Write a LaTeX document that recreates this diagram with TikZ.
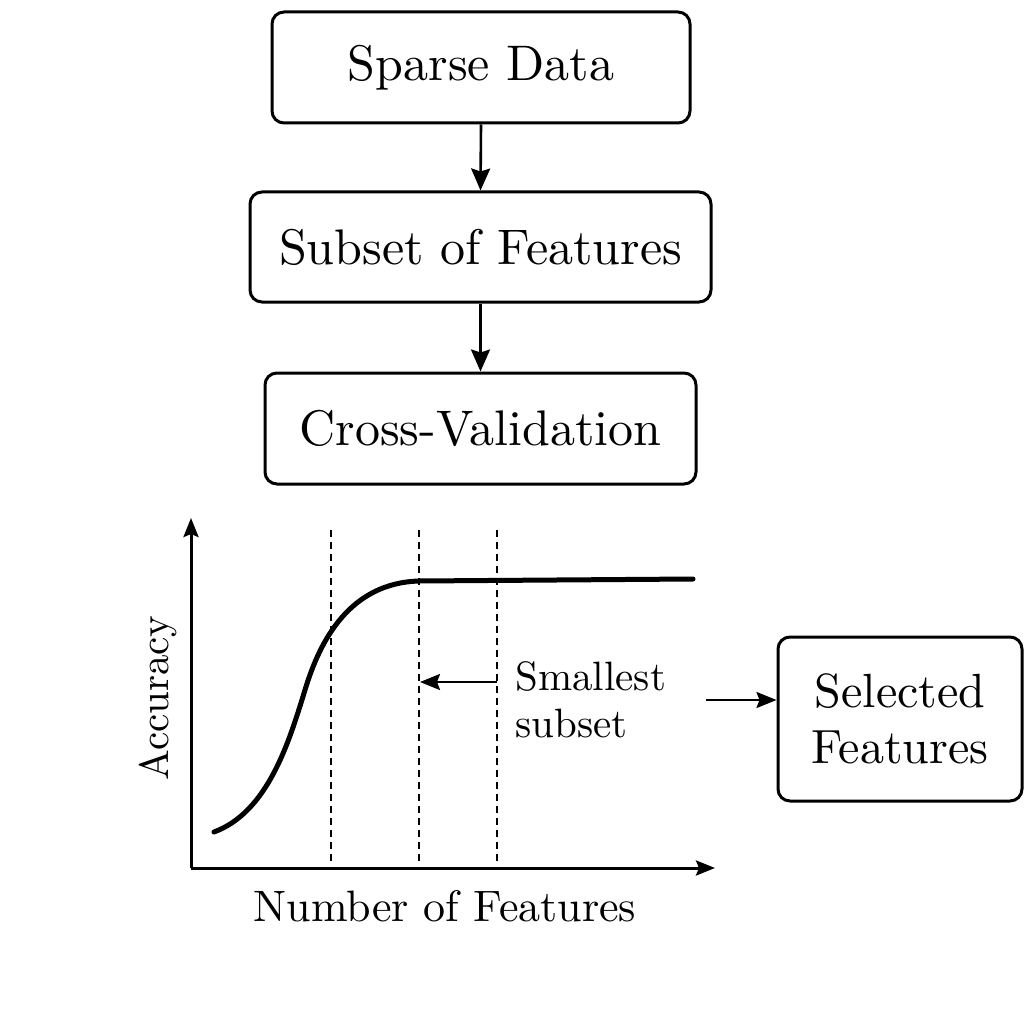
\documentclass[tikz,border=0pt]{standalone}
\usepackage{fontspec}
\setmainfont{lmroman10-regular}[Extension=.otf]
\usetikzlibrary{arrows.meta}
\begin{document}
\begin{tikzpicture}[x=1pt,y=-1pt,
  box/.style={draw,line width=3pt,rounded corners=12pt,inner sep=0pt,font=\fontsize{50}{60}\selectfont},
  conn/.style={line width=2.6pt,-{Stealth[length=22pt,width=19pt,inset=3pt]}},
  smallconn/.style={line width=2.4pt,-{Stealth[length=20pt,width=16pt,inset=3pt]}},
  axis/.style={line width=3pt,-{Stealth[length=19pt,width=15pt,inset=3pt]}},
  guide/.style={line width=2pt,dash pattern=on 7pt off 5pt},
  curve/.style={line width=5pt,line cap=round}]
\useasboundingbox (0,0) rectangle (1024,1024);
\node[box,minimum width=418pt,minimum height=111pt] (sparse) at (481,67.5) {Sparse Data};
\node[box,minimum width=461pt,minimum height=110pt] (subset) at (480.5,247) {Subset of Features};
\node[box,minimum width=431pt,minimum height=111pt] (cv) at (480.5,428.5) {Cross-Validation};
\node[box,minimum width=244pt,minimum height=164pt,align=center,font=\fontsize{48}{56}\selectfont] (sel) at (900,719) {Selected\\Features};
\draw[conn] (sparse.south) -- (subset.north);
\draw[conn] (subset.south) -- (cv.north);
% chart
\coordinate (origin) at (191,868);
\coordinate (ytip) at (191,518);
\coordinate (xtip) at (715,868);
\draw[axis] (origin) -- (ytip);
\draw[axis] (origin) -- (xtip);
\draw[guide] (331,530) -- (331,865);
\draw[guide] (419,530) -- (419,865);
\draw[guide] (497,530) -- (497,865);
\draw[curve] (214,832) .. controls (268,812) and (289,742) .. (305,690)
  .. controls (320,640) and (350,583) .. (419,581) -- (693,579);
\coordinate (ssfrom) at (497,682);
\coordinate (ssto) at (420,682);
\draw[smallconn] (ssfrom) -- (ssto);
\node[anchor=west,align=left,font=\fontsize{41}{47}\selectfont] (small) at (512,700) {Smallest\\subset};
\coordinate (selfrom) at (706,700);
\draw[smallconn] (selfrom) -- (sel.west |- selfrom);
\node[rotate=90,font=\fontsize{41}{50}\selectfont] (acc) at (158,698) {Accuracy};
\node[font=\fontsize{44}{50}\selectfont] (nof) at (445,906) {Number of Features};
\end{tikzpicture}
\end{document}
